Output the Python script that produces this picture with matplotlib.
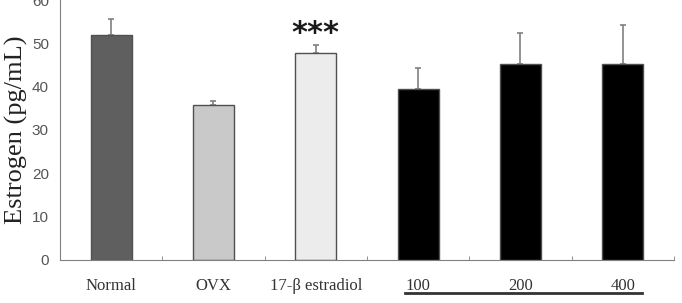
import matplotlib
matplotlib.use("Agg")
import matplotlib.pyplot as plt
from matplotlib.lines import Line2D

# Datos
groups = ["Normal", "OVX", "17-β estradiol", "100", "200", "400"]
means = [52.0, 35.8, 47.8, 39.5, 45.3, 45.2]
errors = [3.6, 0.8, 1.9, 4.7, 7.1, 9.1]
bar_colors = ["#5f5f5f", "#c9c9c9", "#ececec", "#000000", "#000000", "#000000"]

fig = plt.figure(figsize=(6.82, 3.03), dpi=100)
ax = fig.add_axes([0.088, 0.142, 0.900, 0.858])

x = list(range(len(groups)))
ax.bar(x, means, width=0.4, color=bar_colors, edgecolor="#505050", linewidth=1.0, zorder=2)
ax.errorbar(x, means, yerr=[[0] * len(errors), errors], fmt="none",
            ecolor="#808080", elinewidth=1.2, capsize=2, capthick=1.2, zorder=1)

# Asteriscos sobre estradiol
ax.text(2, 52.2, "***", ha="center", va="center", fontsize=22,
        fontweight="bold", family="DejaVu Sans", color="#1a1a1a")

ax.set_xlim(-0.5, 5.5)
ax.set_ylim(0, 60)
ax.set_yticks(range(0, 61, 10))
ax.set_xticks(x)
ax.set_xticklabels(groups, family="Liberation Serif", fontsize=12, color="#333333")
ax.set_xticks([i + 0.5 for i in range(len(groups))], minor=True)
ax.tick_params(axis="x", which="major", length=0, pad=13)
ax.tick_params(axis="x", which="minor", direction="in", length=3, color="#808080")
ax.tick_params(axis="y", length=0, pad=8, labelsize=11, labelcolor="#555555")
for lab in ax.get_yticklabels():
    lab.set_family("Liberation Sans")

ax.set_ylabel("Estrogen (pg/mL)", family="Liberation Serif", fontsize=19, color="#222222", labelpad=3)

for s in ["top", "right"]:
    ax.spines[s].set_visible(False)
ax.spines["left"].set_color("#808080")
ax.spines["bottom"].set_color("#808080")

# Subrayado de las dosis
fig.add_artist(Line2D([405 / 682, 642 / 682], [1 - 293 / 303, 1 - 293 / 303],
                      color="#333333", linewidth=2.0))

fig.savefig("out.png", dpi=100)
